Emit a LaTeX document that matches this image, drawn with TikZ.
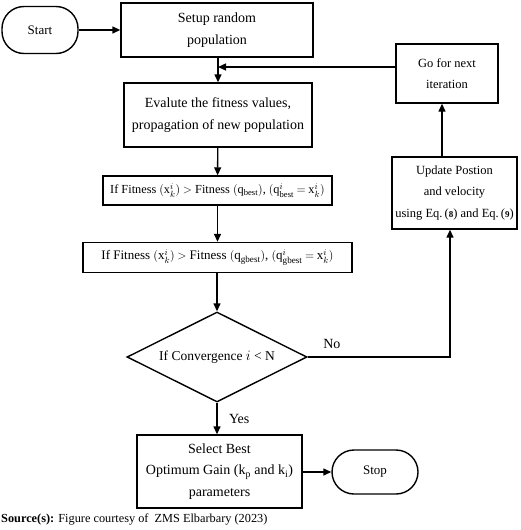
\documentclass[tikz,border=0pt]{standalone}
\usepackage{fontspec}
\setmainfont{Liberation Serif}
\usetikzlibrary{arrows.meta, shapes.geometric}
\newcommand\eqsp{\thickmuskip=4mu\relax}

\begin{document}
\begin{tikzpicture}[
    x=1pt, y=-1pt,
    % Estilos
    box base/.style={draw, line width=1.4pt, align=center, inner sep=2pt,
        font=\fontsize{12.5}{21.5}\selectfont},
    box big/.style={box base, font=\fontsize{14}{21.5}\selectfont},
    box eq/.style={box base, font=\fontsize{13}{16}\selectfont\eqsp},
    terminal/.style={box base, rounded corners=22pt, font=\fontsize{13}{16}\selectfont},
    decision/.style={draw, line width=1.4pt, diamond, aspect=2, inner sep=0pt,
        minimum width=180pt, minimum height=90pt, font=\fontsize{13.5}{16}\selectfont},
    flow/.style={-{Triangle[length=8pt, width=7pt]}, line width=1.4pt},
    lbl/.style={font=\fontsize{14}{16}\selectfont}
]
    \useasboundingbox (0,0) rectangle (520,530);

    % =========================================================================
    % 1. Nodos principales (columna central)
    % =========================================================================
    \node[terminal, minimum width=76pt, minimum height=47pt] (start) at (40,30) {Start};
    \node[box big, minimum width=192pt, minimum height=54pt] (setup) at (217,30) {Setup random\\population};
    \node[box big, minimum width=188pt, minimum height=64pt] (evaluate) at (218,115) {Evalute the fitness values,\\propagation of new population};
    \node[box eq, minimum width=229pt, minimum height=29pt, font=\fontsize{12.3}{16}\selectfont\eqsp] (pbest) at (217.5,190.5)
        {If Fitness\ $(\mathrm{x}_k^i) >$ Fitness\ $(\mathrm{q}_{\mathrm{best}})$, $(\mathrm{q}_{\mathrm{best}}^i = \mathrm{x}_k^i)$};
    \node[box eq, minimum width=269pt, minimum height=30pt] (gbest) at (217.5,257.5)
        {If Fitness\ $(\mathrm{x}_k^i) >$ Fitness\ $(\mathrm{q}_{\mathrm{gbest}})$, $(\mathrm{q}_{\mathrm{gbest}}^i = \mathrm{x}_k^i)$};
    \node[decision] (converge) at (217,357) {If Convergence $i$ < N};
    \node[box big, minimum width=165pt, minimum height=73pt] (select) at (219.5,471.5)
        {Select Best\\Optimum Gain (k$_{\mathrm{p}}$ and k$_{\mathrm{i}}$)\\parameters};
    \node[terminal, minimum width=86pt, minimum height=44pt] (stop) at (375,472) {Stop};

    % =========================================================================
    % 2. Rama de actualizacion (columna derecha)
    % =========================================================================
    \node[box base, minimum width=125pt, minimum height=72pt] (update) at (454.5,193)
        {Update Postion\\and velocity\\using Eq.\,({\small\bfseries 8}) and Eq.\,({\small\bfseries 9})};
    \node[box base, minimum width=102pt, minimum height=59pt] (nextiter) at (447,73.5) {Go for next\\iteration};

    % Puntos auxiliares para los retornos
    \coordinate (feedin) at (218,67);
    \coordinate (feedout) at (nextiter.west |- feedin);
    \coordinate (corner) at (450,357);

    % =========================================================================
    % 3. Conectores
    % =========================================================================
    \draw[flow] (start) -- (setup);
    \draw[flow] (setup.south -| evaluate.north) -- (evaluate.north);
    \draw[flow] (evaluate) -- (pbest);
    \draw[flow] (pbest) -- (gbest);
    \draw[flow] (gbest.south -| converge.north) -- (converge.north);
    \draw[flow] (converge.south) -- (converge.south |- select.north)
        node[midway, right=8pt, lbl] {Yes};
    \draw[flow] (select.east |- stop.west) -- (stop.west);

    % Rama "No": hacia la actualizacion y de vuelta al bucle
    \draw[flow] (converge.east) -- (corner) -- (corner |- update.south);
    \path (converge.east) -- (corner) node[pos=0.17, above=5pt, lbl] {No};
    \draw[flow] (update.north -| 442,0) -- (nextiter.south -| 442,0);
    \draw[flow] (feedout) -- (feedin);

    % =========================================================================
    % 4. Fuente
    % =========================================================================
    \node[anchor=west, inner sep=0pt, font=\fontsize{12.3}{14}\selectfont] (source) at (1,519)
        {\textbf{Source(s):} Figure courtesy of\ \ ZMS Elbarbary (2023)};
\end{tikzpicture}
\end{document}
